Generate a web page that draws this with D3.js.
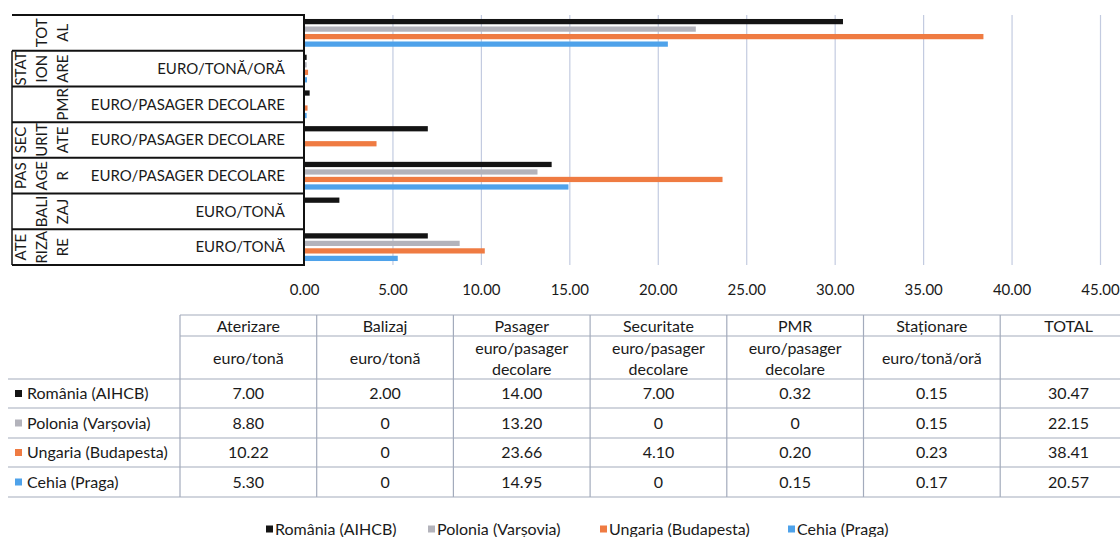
<!DOCTYPE html>
<html>
<head>
<meta charset="utf-8">
<script src="https://cdn.jsdelivr.net/npm/d3@7/dist/d3.min.js"></script>
<style>
  html, body { margin: 0; padding: 0; background: #fff; }
  svg { display: block; font-family: Lato, "Open Sans", sans-serif; }
</style>
</head>
<body>
<svg id="chart" width="1120" height="537"></svg>
<script>
// Airport charges per category (top level category names, wrapped as in the axis)
const categories = ["ATERIZARE", "BALIZAJ", "PASAGER", "SECURITATE", "PMR", "STAȚIONARE", "TOTAL"];
const categoryLines = [["ATE", "RIZA", "RE"], ["BALI", "ZAJ"], ["PAS", "AGE", "R"], ["SEC", "URIT", "ATE"], ["PMR"], ["STAT", "ION", "ARE"], ["TOT", "AL"]];
const categoryUnits = ["EURO/TONĂ", "EURO/TONĂ", "EURO/PASAGER DECOLARE", "EURO/PASAGER DECOLARE", "EURO/PASAGER DECOLARE", "EURO/TONĂ/ORĂ", ""];

// Series
const seriesNames = ["România (AIHCB)", "Polonia (Varșovia)", "Ungaria (Budapesta)", "Cehia (Praga)"];
const seriesColors = ["#141414", "#b3b3bb", "#ef7b42", "#4ea2ea"];
const romania = [7.00, 2.00, 14.00, 7.00, 0.32, 0.15, 30.47];
const polonia = [8.80, 0, 13.20, 0, 0, 0.15, 22.15];
const ungaria = [10.22, 0, 23.66, 4.10, 0.20, 0.23, 38.41];
const cehia = [5.30, 0, 14.95, 0, 0.15, 0.17, 20.57];
const seriesValues = [romania, polonia, ungaria, cehia];

// Axis ticks
const xTicks = [0, 5, 10, 15, 20, 25, 30, 35, 40, 45];

// Data table headings
const tableHeaders = ["Aterizare", "Balizaj", "Pasager", "Securitate", "PMR", "Staționare", "TOTAL"];
const tableUnits = [["euro/tonă"], ["euro/tonă"], ["euro/pasager", "decolare"], ["euro/pasager", "decolare"], ["euro/pasager", "decolare"], ["euro/tonă/oră"], []];

const svg = d3.select("#chart");
const textColor = "#1a1a1a";

// ---------- scales ----------
const x = d3.scaleLinear().domain([0, 45]).range([304, 1100]);
const yCat = d3.scaleBand().domain(categories.slice().reverse()).range([15, 265]);
const ySer = d3.scaleBand().domain(seriesNames).range([0, yCat.bandwidth()])
  .paddingInner(0.3).paddingOuter(0.53);

// ---------- gridlines + tick labels ----------
const gridAxis = d3.axisBottom(x).tickValues(xTicks).tickSize(-250).tickFormat("");
svg.append("g").attr("transform", "translate(0,265)").call(gridAxis)
  .call(g => g.select(".domain").remove())
  .call(g => g.selectAll("line").attr("stroke", "#c3cbe0").attr("stroke-width", 1.2))
  .call(g => g.selectAll(".tick").filter(d => d === 0).remove());

const labelAxis = d3.axisBottom(x).tickValues(xTicks).tickSize(0).tickPadding(0)
  .tickFormat(d3.format(".2f"));
svg.append("g").attr("transform", "translate(0,284)").call(labelAxis)
  .call(g => g.select(".domain").remove())
  .call(g => g.selectAll("text").attr("fill", textColor).attr("font-size", 15)
    .attr("font-family", "Lato, sans-serif").attr("dy", "0.71em"));

// ---------- bars ----------
const groups = svg.append("g").selectAll("g")
  .data(categories)
  .join("g")
  .attr("transform", d => `translate(0,${yCat(d)})`);

groups.selectAll("rect")
  .data((c, ci) => seriesNames.map((s, si) => ({ s, si, v: seriesValues[si][ci] })))
  .join("rect")
  .attr("x", x(0))
  .attr("y", d => ySer(d.s))
  .attr("width", d => x(d.v) - x(0))
  .attr("height", ySer.bandwidth())
  .attr("fill", d => seriesColors[d.si]);

// ---------- multi-level category labels ----------
const axisG = svg.append("g");
const lineColor = "#111";
// horizontal separators
const boundaries = categories.map(c => yCat(c)).concat([yCat.range()[1]]);
axisG.selectAll("line.sep").data(boundaries).join("line")
  .attr("class", "sep")
  .attr("x1", 12).attr("x2", x(0))
  .attr("y1", d => d).attr("y2", d => d)
  .attr("stroke", lineColor).attr("stroke-width", 2);
// left edge and value axis line
axisG.append("line").attr("x1", 12).attr("x2", 12)
  .attr("y1", yCat("STAȚIONARE")).attr("y2", yCat.range()[1])
  .attr("stroke", lineColor).attr("stroke-width", 1.5);
axisG.append("line").attr("x1", x(0)).attr("x2", x(0))
  .attr("y1", yCat.range()[0] - 1).attr("y2", yCat.range()[1] + 1)
  .attr("stroke", lineColor).attr("stroke-width", 2);

// rotated outer labels
categories.forEach((c, ci) => {
  const lines = categoryLines[ci];
  const cy = yCat(c) + yCat.bandwidth() / 2;
  const lastX = 63;
  const t = axisG.append("text")
    .attr("transform", `translate(${lastX - 21 * (lines.length - 1)},${cy}) rotate(-90)`)
    .attr("text-anchor", "middle")
    .attr("font-size", 15)
    .attr("fill", textColor);
  lines.forEach((ln, li) => {
    t.append("tspan").attr("x", 0).attr("y", li * 21).attr("dy", "0.35em").text(ln);
  });
});

// inner unit labels
axisG.selectAll("text.unit").data(categories).join("text")
  .attr("class", "unit")
  .attr("x", 285)
  .attr("y", d => yCat(d) + yCat.bandwidth() / 2)
  .attr("dy", "0.35em")
  .attr("text-anchor", "end")
  .attr("font-size", 15)
  .attr("fill", textColor)
  .text((d, i) => categoryUnits[i]);

// ---------- data table ----------
const colX = d3.scaleBand().domain(tableHeaders).range([180, 180 + 136.7 * 7]);
const rowLines = [315, 336, 379, 408, 438, 467, 497];
const tG = svg.append("g");
const gridColor = "#a3abbc";
const colEdges = tableHeaders.map(h => colX(h)).concat([colX.range()[1]]);
const tableFont = 16;

// vertical column lines
tG.selectAll("line.col").data(colEdges).join("line")
  .attr("x1", d => d).attr("x2", d => d)
  .attr("y1", rowLines[0]).attr("y2", rowLines[rowLines.length - 1])
  .attr("stroke", gridColor).attr("stroke-width", 1.2);
// horizontal lines
tG.selectAll("line.row").data(rowLines).join("line")
  .attr("x1", (d, i) => i < 2 ? 180 : 8)
  .attr("x2", colX.range()[1])
  .attr("y1", d => d).attr("y2", d => d)
  .attr("stroke", gridColor).attr("stroke-width", 1.2);

// header names
tG.selectAll("text.head").data(tableHeaders).join("text")
  .attr("x", d => colX(d) + colX.bandwidth() / 2)
  .attr("y", (rowLines[0] + rowLines[1]) / 2 + 1)
  .attr("dy", "0.35em").attr("text-anchor", "middle")
  .attr("font-size", tableFont).attr("fill", textColor)
  .text(d => d);

// header units
tableHeaders.forEach((h, i) => {
  const lines = tableUnits[i];
  const mid = (rowLines[1] + rowLines[2]) / 2;
  lines.forEach((ln, li) => {
    const yy = lines.length === 1 ? mid + 1 : mid - 9 + li * 21;
    tG.append("text")
      .attr("x", colX(h) + colX.bandwidth() / 2).attr("y", yy)
      .attr("dy", "0.35em").attr("text-anchor", "middle")
      .attr("font-size", tableFont).attr("fill", textColor)
      .text(ln);
  });
});

// rows
const fmt = v => v === 0 ? "0" : v.toFixed(2);
seriesNames.forEach((s, si) => {
  const cy = (rowLines[3 + si] + rowLines[2 + si]) / 2;
  tG.append("rect").attr("x", 15).attr("y", cy - 3.5).attr("width", 7).attr("height", 7)
    .attr("fill", seriesColors[si]);
  tG.append("text").attr("x", 27).attr("y", cy).attr("dy", "0.35em")
    .attr("font-size", tableFont).attr("fill", textColor).text(s);
  tG.selectAll(null).data(seriesValues[si]).join("text")
    .attr("x", (d, ci) => colX(tableHeaders[ci]) + colX.bandwidth() / 2)
    .attr("y", cy).attr("dy", "0.35em").attr("text-anchor", "middle")
    .attr("font-size", tableFont).attr("fill", textColor)
    .text(d => fmt(d));
});

// ---------- legend ----------
const legendX = [266, 428, 600, 788];
const lg = svg.append("g").attr("transform", "translate(0,529)");
seriesNames.forEach((s, si) => {
  lg.append("rect").attr("x", legendX[si]).attr("y", -3.5).attr("width", 7).attr("height", 7)
    .attr("fill", seriesColors[si]);
  lg.append("text").attr("x", legendX[si] + 9).attr("y", 0).attr("dy", "0.35em")
    .attr("font-size", tableFont).attr("fill", textColor).text(s);
});
</script>
</body>
</html>
